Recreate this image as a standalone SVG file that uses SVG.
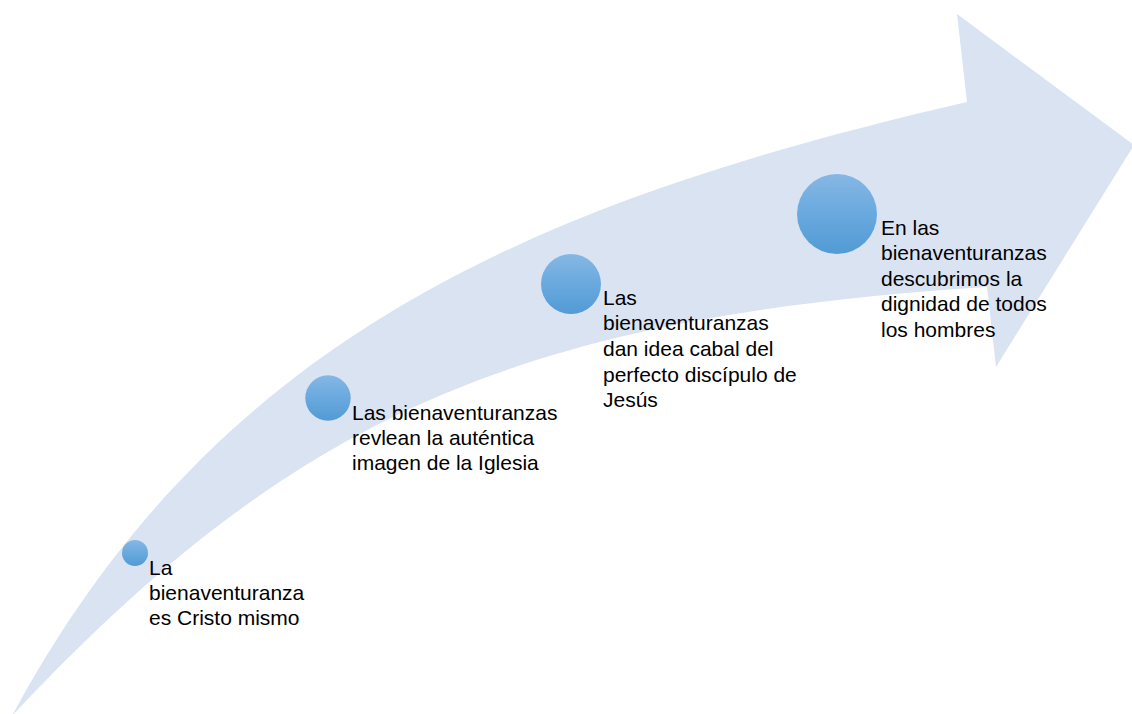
<svg xmlns="http://www.w3.org/2000/svg" width="1132" height="714" viewBox="0 0 1132 714">
<defs>
<linearGradient id="dot" x1="0" y1="0" x2="0" y2="1">
<stop offset="0" stop-color="#86b7e4"/>
<stop offset="0.5" stop-color="#69a9de"/>
<stop offset="1" stop-color="#529bd4"/>
</linearGradient>
<style>
.band{fill:#dae3f2;stroke:none}
.dot{fill:url(#dot);stroke:none}
.lbl{font-family:"Liberation Sans",Arial,sans-serif;font-size:21px;fill:#000}
</style>
</defs>
<rect width="1132" height="714" fill="#ffffff"/>
<g id="connectors">
<path class="band" d="M12,716 C213,342 525,204 967,102 L957,14 L1134,145 L996,367 L987,287 C516,317 291,418 12,716 Z"/>
</g>
<g id="node1">
<circle class="dot" cx="135" cy="553" r="13"/>
<text class="lbl"><tspan x="149" y="575">La</tspan><tspan x="149" y="600">bienaventuranza</tspan><tspan x="149" y="625">es Cristo mismo</tspan></text>
</g>
<g id="node2">
<circle class="dot" cx="328" cy="398" r="22.7"/>
<text class="lbl"><tspan x="352" y="420">Las bienaventuranzas</tspan><tspan x="352" y="445">revlean la auténtica</tspan><tspan x="352" y="470">imagen de la Iglesia</tspan></text>
</g>
<g id="node3">
<circle class="dot" cx="571" cy="284" r="30"/>
<text class="lbl"><tspan x="603" y="305">Las</tspan><tspan x="603" y="330">bienaventuranzas</tspan><tspan x="603" y="356">dan idea cabal del</tspan><tspan x="603" y="382">perfecto discípulo de</tspan><tspan x="603" y="407">Jesús</tspan></text>
</g>
<g id="node4">
<circle class="dot" cx="837" cy="214" r="40"/>
<text class="lbl"><tspan x="881" y="235">En las</tspan><tspan x="881" y="260">bienaventuranzas</tspan><tspan x="881" y="286">descubrimos la</tspan><tspan x="881" y="311">dignidad de todos</tspan><tspan x="881" y="337">los hombres</tspan></text>
</g>
</svg>
